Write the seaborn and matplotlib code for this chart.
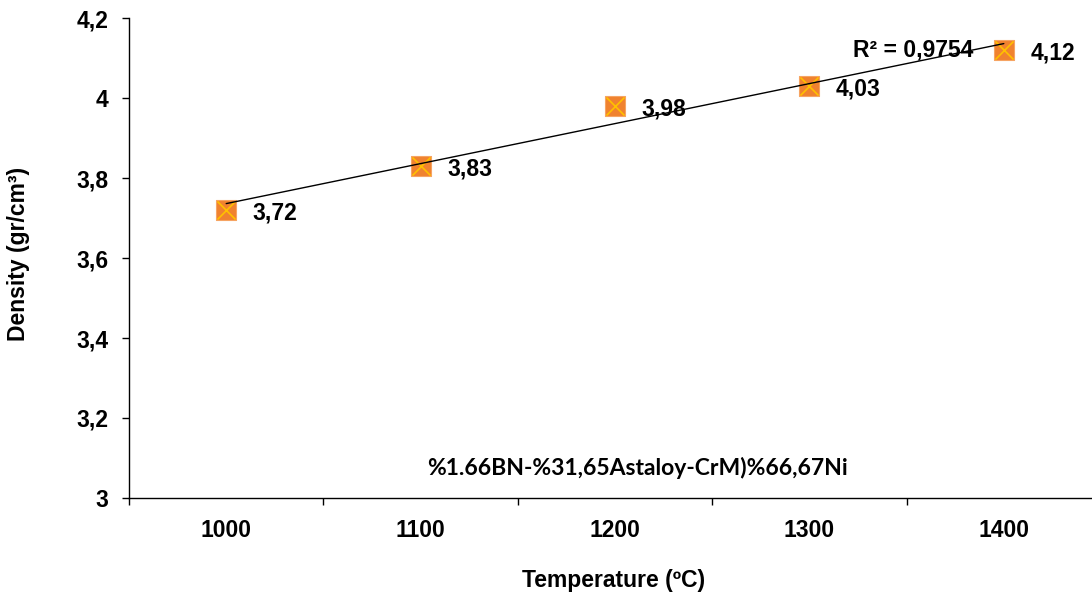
import numpy as np
import pandas as pd
import seaborn as sns
import matplotlib.pyplot as plt
from matplotlib.ticker import FixedLocator, FuncFormatter

# data
temperature = ["1000", "1100", "1200", "1300", "1400"]
density = [3.72, 3.83, 3.98, 4.03, 4.12]
density_labels = ["3,72", "3,83", "3,98", "4,03", "4,12"]
composition = "%1.66BN-%31,65Astaloy-CrM)%66,67Ni"

sns.set_style("white")
plt.rcParams["font.family"] = ["Liberation Sans", "DejaVu Sans"]
plt.rcParams["font.sans-serif"] = ["Liberation Sans"]
plt.rcParams["text.color"] = "black"
plt.rcParams["xtick.color"] = "black"
plt.rcParams["ytick.color"] = "black"
plt.rcParams["axes.labelcolor"] = "black"
ARIAL = ["Liberation Sans", "DejaVu Sans"]
FS = 16.5

df = pd.DataFrame({"pos": np.arange(len(temperature)), "density": density})

fig = plt.figure(figsize=(10.92, 5.95), dpi=100)
ax = fig.add_axes([129 / 1092, 1 - 498 / 595, 972 / 1092, 480 / 595])

# linear trendline
slope, intercept = np.polyfit(df["pos"], df["density"], 1)
fit = slope * df["pos"] + intercept
r2 = 1 - ((df["density"] - fit) ** 2).sum() / ((df["density"] - df["density"].mean()) ** 2).sum()
sns.lineplot(x=df["pos"], y=fit, color="black", linewidth=1.0, ax=ax, zorder=3)

sns.scatterplot(data=df, x="pos", y="density", marker="s", s=210, color="#F0822F",
                edgecolor="#F6A463", linewidth=0.8, ax=ax, zorder=2)
sns.scatterplot(data=df, x="pos", y="density", marker="x", s=170, color="#FFC000",
                linewidth=1.2, ax=ax, zorder=2.5)

for i, lab in enumerate(density_labels):
    ax.annotate(lab, (df["pos"][i], density[i]), xytext=(19, -2), textcoords="offset points",
                ha="left", va="center", fontsize=FS, fontweight="bold", family=ARIAL)

ax.text(3.224, 4.12, "R² = " + f"{r2:.4f}".replace(".", ","), fontsize=FS,
        fontweight="bold", ha="left", va="center", family=ARIAL)
ax.text(2.118, 3.075, composition, fontsize=FS, fontweight="bold", ha="center",
        va="center", family=["Lato", "DejaVu Sans"])

ax.set_xlim(-0.5, 4.5)
ax.set_ylim(3, 4.2)
ax.set_yticks([3, 3.2, 3.4, 3.6, 3.8, 4, 4.2])
ax.yaxis.set_major_formatter(FuncFormatter(lambda v, p: f"{v:g}".replace(".", ",")))
ax.set_xticks(df["pos"])
ax.set_xticklabels(temperature)
ax.xaxis.set_minor_locator(FixedLocator(np.arange(-0.5, 5, 1)))
ax.tick_params(axis="x", which="major", length=0, pad=15)
ax.tick_params(axis="x", which="minor", length=5, width=1, color="black", direction="out", bottom=True)
ax.tick_params(axis="y", length=5, width=1, color="black", direction="out", left=True, pad=10)
for lab in ax.get_xticklabels() + ax.get_yticklabels():
    lab.set_fontweight("bold")
    lab.set_fontsize(FS)
    lab.set_family(ARIAL)

for side in ["top", "right"]:
    ax.spines[side].set_visible(False)
for side in ["left", "bottom"]:
    ax.spines[side].set_color("black")
    ax.spines[side].set_linewidth(1.0)

ax.set_xlabel("Temperature (ºC)", fontsize=FS, fontweight="bold", family=ARIAL)
ax.set_ylabel("Density (gr/cm³)", fontsize=FS, fontweight="bold", family=ARIAL)
ax.xaxis.label.set_va("center")
ax.yaxis.label.set_va("center")
ax.xaxis.set_label_coords((614 - 129) / 972, -82 / 480)
ax.yaxis.set_label_coords((19 - 129) / 972, (498 - 254) / 480)

fig.savefig("out.png", dpi=100)
